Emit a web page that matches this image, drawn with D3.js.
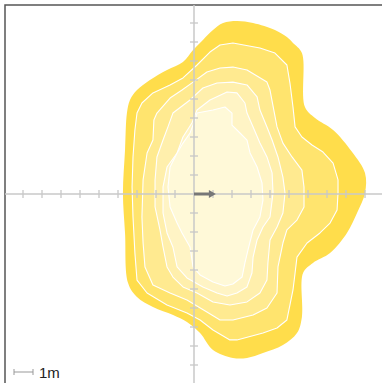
<!DOCTYPE html>
<html><head><meta charset="utf-8">
<script src="https://cdn.jsdelivr.net/npm/d3@7"></script>
<style>html,body{margin:0;padding:0;background:#fff;overflow:hidden}</style>
</head><body>
<svg id="c" width="382" height="383"></svg>
<script>
// Contour levels (outer -> inner), coordinates in metres
const contour0 = [[2.26,9.11],[1.53,9.0],[1.0,8.63],[0.47,8.11],[-0.05,7.58],[-0.58,6.95],[-1.42,6.53],[-2.32,6.0],[-3.0,5.47],[-3.37,4.95],[-3.53,4.26],[-3.63,2.32],[-3.74,0.05],[-3.63,-2.05],[-3.47,-4.68],[-3.0,-5.42],[-2.16,-5.95],[-1.1,-6.37],[-0.37,-6.74],[0.32,-7.32],[1.0,-8.21],[2.05,-8.63],[2.79,-8.63],[3.63,-8.37],[4.68,-7.95],[5.42,-7.32],[5.68,-6.47],[5.74,-4.16],[6.26,-3.63],[7.16,-3.11],[8.05,-2.05],[8.58,-1.0],[9.0,0.05],[9.0,1.1],[8.32,2.21],[7.32,3.37],[6.37,4.0],[5.84,4.58],[5.68,7.42],[5.21,7.95],[4.89,8.26],[4.26,8.63],[3.11,9.0]];
const contour1 = [[2.05,7.95],[3.47,7.68],[4.26,7.42],[4.89,6.79],[5.05,5.84],[5.21,4.58],[5.32,3.53],[5.68,3.0],[6.21,2.58],[6.79,2.21],[7.32,1.63],[7.58,0.74],[7.58,0.05],[7.53,-0.84],[7.16,-1.53],[6.63,-2.05],[5.95,-2.58],[5.42,-3.32],[5.32,-4.16],[5.21,-5.05],[4.89,-6.63],[4.37,-7.05],[3.63,-7.32],[2.26,-7.68],[1.89,-7.68],[1.0,-7.16],[0.32,-6.63],[-0.37,-6.26],[-1.42,-5.84],[-2.47,-5.21],[-3.0,-4.53],[-3.11,-3.11],[-3.21,-1.21],[-3.26,0.37],[-3.21,1.95],[-3.11,3.37],[-3.0,4.26],[-2.74,4.79],[-2.16,5.32],[-1.26,5.74],[-0.58,6.11],[0.16,6.79],[0.84,7.47],[1.37,7.84]];
const contour2 = [[2.05,6.68],[2.79,6.53],[3.84,5.89],[4.0,5.47],[4.37,3.53],[4.68,2.68],[5.16,1.95],[5.68,1.26],[5.79,0.37],[5.79,-0.68],[5.42,-1.37],[4.89,-1.89],[4.68,-2.58],[4.42,-3.84],[4.37,-5.21],[3.84,-6.0],[3.11,-6.37],[2.05,-6.63],[1.37,-6.63],[0.68,-6.21],[-0.37,-5.58],[-1.26,-5.21],[-2.16,-4.79],[-2.58,-3.84],[-2.68,-2.58],[-2.74,-1.21],[-2.68,0.74],[-2.47,2.16],[-2.16,2.84],[-2.11,3.89],[-1.95,4.26],[-1.26,5.05],[-0.63,5.47],[-0.05,5.89],[0.68,6.42],[1.37,6.63]];
const contour3 = [[2.05,5.89],[2.79,5.74],[3.32,5.11],[3.47,4.42],[3.84,3.53],[4.11,2.84],[4.42,1.95],[4.68,0.89],[4.79,0.05],[4.68,-1.0],[4.37,-1.74],[4.0,-2.42],[3.89,-3.63],[3.84,-4.53],[3.47,-5.21],[2.79,-5.68],[1.89,-5.84],[1.0,-5.68],[0.16,-5.21],[-0.58,-4.89],[-1.11,-4.37],[-1.42,-3.84],[-1.63,-2.79],[-1.79,-1.89],[-2.05,-0.68],[-2.05,0.74],[-1.95,1.95],[-1.63,2.84],[-1.37,3.53],[-1.11,4.26],[-0.21,4.95],[0.47,5.58],[1.21,5.84]];
const contour4 = [[1.74,5.37],[2.26,5.32],[2.68,4.79],[2.79,4.26],[3.11,3.53],[3.47,2.68],[3.84,1.95],[4.11,1.11],[4.16,0.05],[4.0,-1.21],[3.63,-1.74],[3.32,-2.42],[3.11,-3.32],[3.05,-4.16],[2.79,-4.89],[2.26,-5.21],[1.74,-5.37],[1.21,-5.21],[0.47,-4.89],[-0.37,-4.42],[-0.89,-3.84],[-1.11,-2.79],[-1.42,-2.05],[-1.63,-1.0],[-1.63,0.37],[-1.42,1.42],[-0.89,2.16],[-0.58,3.0],[-0.11,3.74],[0.16,4.42],[0.84,4.95]];
const contour5 = [[1.63,4.58],[2.0,4.26],[2.0,3.63],[2.42,3.21],[2.79,2.84],[2.95,2.16],[3.32,1.42],[3.58,0.58],[3.63,-0.32],[3.47,-1.21],[3.11,-1.89],[2.84,-2.95],[2.68,-3.63],[2.53,-4.37],[2.05,-4.74],[1.63,-4.84],[1.0,-4.63],[0.32,-4.26],[-0.05,-3.84],[-0.21,-2.79],[-0.63,-2.05],[-0.89,-1.53],[-1.26,-0.68],[-1.37,0.37],[-1.26,1.42],[-0.89,2.16],[-0.58,2.68],[-0.21,3.21],[0.05,3.89],[0.16,4.26],[1.0,4.42]];
const contours = [contour0, contour1, contour2, contour3, contour4, contour5];
const bandColors = ["#ffdd4b","#ffe46e","#ffea90","#ffefac","#fff4c5","#fff9d8"];
const tickValues = [-9,-8,-7,-6,-5,-4,-3,-2,-1,1,2,3,4,5,6,7,8,9];
const arrowVector = [1.15, 0];
const scaleBarLength = 1;
const scaleBarLabel = "1m";

const svg = d3.select("#c");
const cx = 194, cy = 194, ppm = 19;
const x = d3.scaleLinear().domain([0,1]).range([cx, cx+ppm]);
const y = d3.scaleLinear().domain([0,1]).range([cy, cy-ppm]);

// frame
svg.append("rect").attr("x",5).attr("y",5).attr("width",420).attr("height",420)
  .attr("fill","none").attr("stroke","#555").attr("stroke-width",1.5);

const line = d3.line().x(d=>x(d[0])).y(d=>y(d[1])).curve(d3.curveLinearClosed);
const lineOuter = d3.line().x(d=>x(d[0])).y(d=>y(d[1])).curve(d3.curveCatmullRomClosed.alpha(0.5));

svg.append("g").selectAll("path").data(contours).join("path")
  .attr("d",(d,i)=> i===0 ? lineOuter(d) : line(d))
  .attr("fill",(d,i)=>bandColors[i])
  .attr("stroke",(d,i)=> i===0 ? "none" : "#fff")
  .attr("stroke-width",1.1)
  .attr("stroke-linejoin","round");

// crosshair axes
const axisColor = "#c8c8c8";
svg.append("line").attr("x1",5).attr("x2",382).attr("y1",y(0)).attr("y2",y(0))
  .attr("stroke",axisColor).attr("stroke-width",1.5);
svg.append("line").attr("x1",x(0)).attr("x2",x(0)).attr("y1",5).attr("y2",383)
  .attr("stroke",axisColor).attr("stroke-width",1.5);
svg.append("g").selectAll("line").data(tickValues).join("line")
  .attr("x1",d=>x(d)).attr("x2",d=>x(d)).attr("y1",y(0)-4).attr("y2",y(0)+4)
  .attr("stroke",axisColor).attr("stroke-width",1.3);
svg.append("g").selectAll("line").data(tickValues).join("line")
  .attr("y1",d=>y(d)).attr("y2",d=>y(d)).attr("x1",x(0)-4).attr("x2",x(0)+4)
  .attr("stroke",axisColor).attr("stroke-width",1.3);

// arrow
const ax2 = x(arrowVector[0]), ay2 = y(arrowVector[1]);
svg.append("line").attr("x1",x(0)).attr("y1",y(0)).attr("x2",ax2-5).attr("y2",ay2)
  .attr("stroke","#777").attr("stroke-width",3);
svg.append("path").attr("d",`M${ax2},${ay2}L${ax2-7},${ay2-4}L${ax2-7},${ay2+4}Z`).attr("fill","#777");

// scale bar
const sbx = 14, sby = 372;
const sw = x(scaleBarLength) - x(0);
svg.append("path").attr("d",`M${sbx},${sby-3}V${sby+3}M${sbx},${sby}H${sbx+sw}M${sbx+sw},${sby-3}V${sby+3}`)
  .attr("stroke","#999").attr("stroke-width",1).attr("fill","none");
svg.append("text").attr("x",sbx+sw+6).attr("y",sby+5.5).text(scaleBarLabel)
  .attr("font-family","Liberation Sans, Arial, sans-serif").attr("font-size",15).attr("fill","#222");
</script>
</body></html>
